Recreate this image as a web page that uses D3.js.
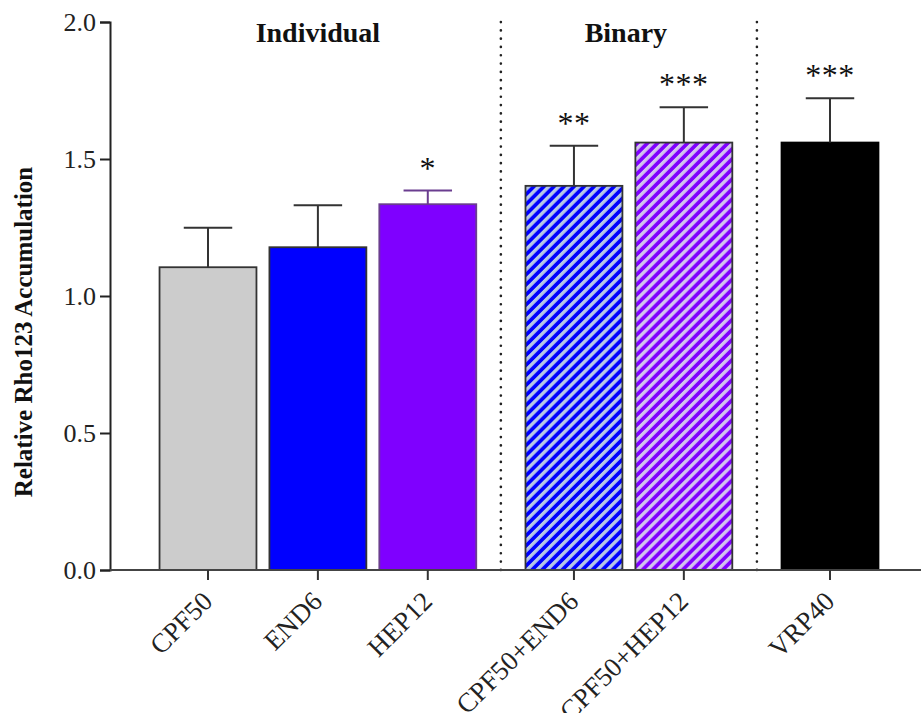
<!DOCTYPE html>
<html><head><meta charset="utf-8">
<script src="https://cdn.jsdelivr.net/npm/d3@7"></script>
<style>body{margin:0;background:#fff}svg{display:block}text{font-family:"Liberation Serif","Times New Roman",serif}</style>
</head><body>
<svg id="c" width="921" height="713"></svg>
<script>
const categories = ["CPF50","END6","HEP12","CPF50+END6","CPF50+HEP12","VRP40"];
const groups = [0,0,0,1,1,2];
const groupLabels = ["Individual","Binary",""];
const means = [1.105,1.178,1.335,1.402,1.560,1.560];
const errors = [0.144,0.153,0.050,0.146,0.129,0.162];
const significance = ["","","*","**","***","***"];
const yTicks = [0.0,0.5,1.0,1.5,2.0];
const fills = ["#cccccc","#0000ff","#7f00ff","hatchBlue","hatchPurple","#000000"];
const strokes = ["#333333","#333333","#6a3d8f","#333333","#333333","#000000"];

const svg = d3.select("#c");
const groupGap = 0.33;
const slot = categories.map((c,i)=> i + groups[i]*groupGap);
const x = d3.scaleLinear().domain([0, 5 + 2*groupGap]).range([208, 830]);
const step = x(1)-x(0);
const bw = step*0.882;
const y = d3.scaleLinear().domain([0,2]).range([570,22]);

// patterns
const defs = svg.append("defs");
function hatch(id, bg, fg){
  const p = defs.append("pattern").attr("id",id).attr("patternUnits","userSpaceOnUse")
    .attr("width",7.1).attr("height",7.1).attr("patternTransform","rotate(45)");
  p.append("rect").attr("width",7.1).attr("height",7.1).attr("fill",bg);
  p.append("rect").attr("x",0).attr("width",3.4).attr("height",7.1).attr("fill",fg);
}
hatch("hatchBlue","#0000ff","#b6c6e6");
hatch("hatchPurple","#8000ff","#d2c2ee");

// dividers
for (let g=1; g<=2; g++){
  const iPrev = groups.lastIndexOf(g-1), iNext = groups.indexOf(g);
  const xm = ((x(slot[iPrev])+bw/2) + (x(slot[iNext])-bw/2))/2;
  svg.append("line").attr("x1",xm).attr("x2",xm).attr("y1",y(2)).attr("y2",y(0))
    .attr("stroke","#222").attr("stroke-width",2.6).attr("stroke-dasharray","0.1,8.2").attr("stroke-linecap","round");
}

// bars
svg.selectAll("rect.bar").data(categories).join("rect").attr("class","bar")
  .attr("x",(d,i)=>x(slot[i])-bw/2).attr("width",bw)
  .attr("y",(d,i)=>y(means[i])).attr("height",(d,i)=>y(0)-y(means[i]))
  .attr("fill",(d,i)=>fills[i].startsWith("#")?fills[i]:`url(#${fills[i]})`)
  .attr("stroke",(d,i)=>strokes[i]).attr("stroke-width",1.8);

// error bars
categories.forEach((c,i)=>{
  const cx = x(slot[i]), top = y(means[i]+errors[i]);
  const col = i===2 ? "#6a3d8f" : "#333";
  svg.append("line").attr("x1",cx).attr("x2",cx).attr("y1",y(means[i])).attr("y2",top).attr("stroke",col).attr("stroke-width",2);
  svg.append("line").attr("x1",cx-bw/4).attr("x2",cx+bw/4).attr("y1",top).attr("y2",top).attr("stroke",col).attr("stroke-width",2);
  if (significance[i]) svg.append("text").attr("x",cx).attr("y",top-12)
    .attr("text-anchor","middle").attr("font-size",32).attr("letter-spacing",0.5).attr("fill","#111").text(significance[i]);
});

// y axis
const yAxis = svg.append("g").attr("transform","translate(110,0)")
  .call(d3.axisLeft(y).tickValues(yTicks).tickFormat(d3.format(".1f")).tickSize(10).tickPadding(4));
yAxis.select(".domain").attr("stroke","#222").attr("stroke-width",2);
yAxis.selectAll(".tick line").attr("stroke","#222").attr("stroke-width",2);
yAxis.selectAll(".tick text").attr("font-size",26).attr("fill","#222").attr("font-family","Liberation Serif");

// x axis
svg.append("line").attr("x1",110).attr("x2",921).attr("y1",y(0)).attr("y2",y(0)).attr("stroke","#444").attr("stroke-width",2);
const xt = svg.append("g");
categories.forEach((c,i)=>{
  const cx = x(slot[i]);
  xt.append("line").attr("x1",cx).attr("x2",cx).attr("y1",y(0)).attr("y2",y(0)+10).attr("stroke","#333").attr("stroke-width",2);
  xt.append("text").attr("text-anchor","end").attr("font-size",27).attr("fill","#222")
    .attr("transform",`translate(${cx+6},${y(0)+33}) rotate(-45)`).text(c);
});

// group labels
[0,1].forEach(g=>{
  const idx = categories.map((c,i)=>i).filter(i=>groups[i]===g);
  const cx = (x(slot[idx[0]]) + x(slot[idx[idx.length-1]]))/2;
  svg.append("text").attr("x",cx - (g===1?3:0)).attr("y",42).attr("text-anchor","middle").attr("font-size",28)
    .attr("font-weight","bold").attr("fill","#111").text(groupLabels[g]);
});

// y title
svg.append("text").attr("transform","translate(32,332) rotate(-90)").attr("text-anchor","middle")
  .attr("font-size",25).attr("font-weight","bold").attr("fill","#111").text("Relative Rho123 Accumulation");
</script>
</body></html>
